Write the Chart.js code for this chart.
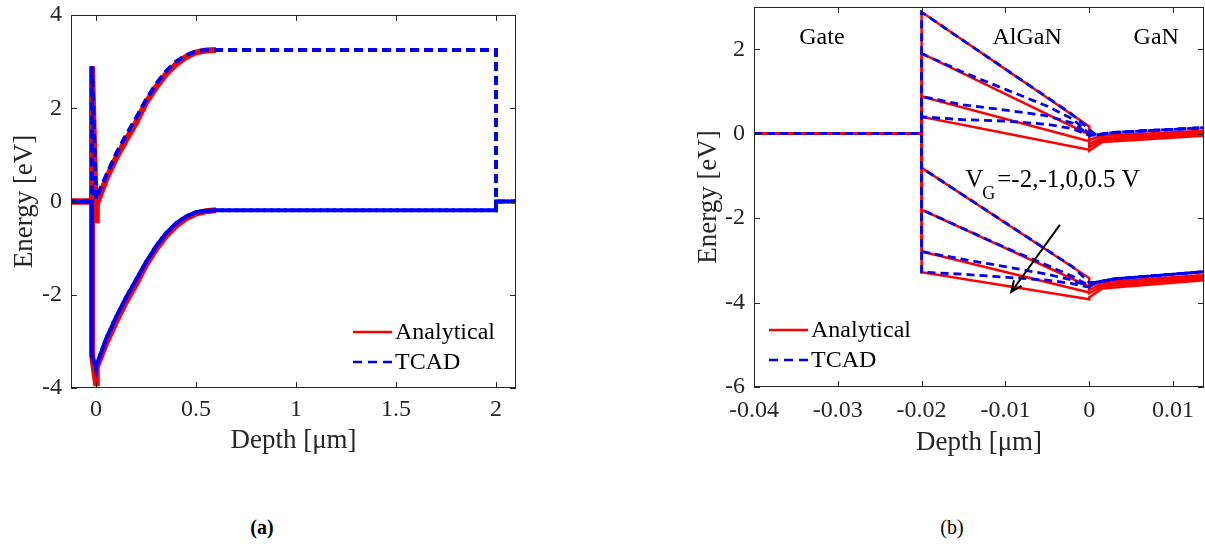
<!DOCTYPE html>
<html lang="en">
<head>
<meta charset="UTF-8">
<title>Energy band diagrams</title>
<style>
  body { margin: 0; background: #fff; width: 1205px; height: 548px; position: relative; overflow: hidden;
         font-family: 'Liberation Serif', 'Times New Roman', serif; }
  .panel { position: absolute; top: 0; height: 470px; }
  #wrapA { left: 0; width: 540px; }
  #wrapB { left: 680px; width: 525px; }
  .cap { position: absolute; top: 515px; font-size: 20px; line-height: 24px; color: #000; transform: translateX(-50%); }
</style>
</head>
<body>
<div class="panel" id="wrapA"><canvas id="chartA" width="540" height="470"></canvas></div>
<div class="panel" id="wrapB"><canvas id="chartB" width="525" height="470"></canvas></div>
<div class="cap" style="left:262px;font-weight:bold">(a)</div>
<div class="cap" style="left:952px">(b)</div>

<script src="https://cdn.jsdelivr.net/npm/chart.js"></script>
<script>
// ---- panel (a): whole structure ----
const aXTicks = [0, 0.5, 1, 1.5, 2];
const aYTicks = [-4, -2, 0, 2, 4];

const aX_an  = [-0.125, -0.02, -0.02, 0, 0.004, 0.05, 0.1, 0.15, 0.2, 0.25, 0.3, 0.35, 0.4, 0.45, 0.5, 0.55, 0.6];
const aEc_an = [0, 0, 2.9, -0.4, -0.05, 0.47, 0.93, 1.32, 1.69, 2.12, 2.45, 2.73, 2.94, 3.10, 3.20, 3.24, 3.25];
const aEv_an = [0, 0, -3.3, -3.9, -3.55, -3.05, -2.58, -2.15, -1.77, -1.36, -1.02, -0.74, -0.52, -0.36, -0.26, -0.21, -0.19];

const aX_tc  = [-0.125, -0.02, -0.02, 0, 0.004, 0.05, 0.1, 0.15, 0.2, 0.25, 0.3, 0.35, 0.4, 0.45, 0.5, 0.55, 0.6, 2.0, 2.0, 2.1];
const aEc_tc = [0, 0, 2.9, 0.05, 0.1, 0.55, 1.02, 1.42, 1.79, 2.18, 2.52, 2.79, 3.0, 3.14, 3.22, 3.25, 3.25, 3.25, 0, 0];
const aEv_tc = [0, 0, -3.3, -3.6, -3.5, -2.95, -2.48, -2.06, -1.68, -1.3, -0.96, -0.68, -0.47, -0.32, -0.23, -0.2, -0.19, -0.19, 0, 0];

// ---- panel (b): zoom on the barrier, VG = -2, -1, 0, 0.5 V ----
const bXTicks = [-0.04, -0.03, -0.02, -0.01, 0, 0.01];
const bYTicks = [-6, -4, -2, 0, 2];

const bX_an = [-0.04, -0.02, -0.02, 0, 0, 0.0015, 0.0137];
const bEc_an_m2 = [0, 0, 2.88, 0.17, -0.15, -0.05, 0.07];
const bEc_an_m1 = [0, 0, 1.90, -0.02, -0.24, -0.10, 0.03];
const bEc_an_0  = [0, 0, 0.88, -0.18, -0.32, -0.15, -0.01];
const bEc_an_p5 = [0, 0, 0.40, -0.38, -0.40, -0.20, -0.05];
const bEv_an_m2 = [0, 0, -0.81, -3.42, -3.62, -3.52, -3.35];
const bEv_an_m1 = [0, 0, -1.80, -3.62, -3.70, -3.57, -3.39];
const bEv_an_0  = [0, 0, -2.79, -3.76, -3.78, -3.62, -3.43];
const bEv_an_p5 = [0, 0, -3.28, -3.92, -3.88, -3.67, -3.47];

const bX_tc = [-0.04, -0.02, -0.02, -0.015, -0.01, -0.005, -0.002, 0, 0.0008, 0.003, 0.0137];
const bEc_tc_m2 = [0, 0, 2.88, 2.20, 1.53, 0.86, 0.45, 0.10, -0.03, 0.03, 0.14];
const bEc_tc_m1 = [0, 0, 1.90, 1.45, 1.05, 0.65, 0.35, 0.0, -0.03, 0.03, 0.14];
const bEc_tc_0  = [0, 0, 0.88, 0.68, 0.56, 0.42, 0.25, -0.02, -0.03, 0.03, 0.14];
const bEc_tc_p5 = [0, 0, 0.40, 0.33, 0.30, 0.22, 0.12, -0.04, -0.03, 0.03, 0.14];
const bEv_tc_m2 = [0, 0, -0.81, -1.46, -2.11, -2.76, -3.15, -3.52, -3.52, -3.44, -3.27];
const bEv_tc_m1 = [0, 0, -1.80, -2.25, -2.70, -3.12, -3.38, -3.60, -3.52, -3.44, -3.27];
const bEv_tc_0  = [0, 0, -2.79, -2.98, -3.15, -3.33, -3.47, -3.62, -3.52, -3.44, -3.27];
const bEv_tc_p5 = [0, 0, -3.28, -3.33, -3.40, -3.47, -3.55, -3.64, -3.52, -3.44, -3.27];

const legendNames = ['Analytical', 'TCAD'];

const SERIF = "'Liberation Serif', 'Times New Roman', serif";
Chart.defaults.font.family = SERIF;
Chart.defaults.color = '#262626';

function pts(xs, ys) {
    return xs.map((x, i) => ({ x: x, y: ys[i] }));
}

function series(xs, ys, tcad, width, dash, dashOffset) {
    return {
        data: pts(xs, ys),
        showLine: true,
        pointRadius: 0,
        tension: 0,
        borderColor: tcad ? '#0000ff' : '#ff0000',
        borderWidth: width,
        borderDash: tcad ? dash : [],
        borderDashOffset: dashOffset || 0,
        order: tcad ? 0 : 1
    };
}

function xScale(min, max, ticks, h, pad, titlePad) {
    return {
        type: 'linear', min: min, max: max, offset: false,
        afterBuildTicks: s => { s.ticks = ticks.map(v => ({ value: v })); },
        afterFit: s => { s.height = h; s.paddingLeft = 0; s.paddingRight = 0; },
        grid: { display: false, drawTicks: false },
        border: { display: false },
        ticks: { padding: pad, maxRotation: 0, autoSkip: false, callback: v => String(v),
                 font: { family: SERIF, size: 24 }, color: '#262626' },
        title: { display: true, text: 'Depth [μm]', font: { family: SERIF, size: 27 }, color: '#262626',
                 padding: { top: 0, bottom: titlePad } }
    };
}

function yScale(min, max, ticks, w, pad, titlePad) {
    return {
        type: 'linear', min: min, max: max,
        afterBuildTicks: s => { s.ticks = ticks.map(v => ({ value: v })); },
        afterFit: s => { s.width = w; s.paddingTop = 0; s.paddingBottom = 0; },
        grid: { display: false, drawTicks: false },
        border: { display: false },
        ticks: { padding: pad, autoSkip: false, callback: v => String(v),
                 font: { family: SERIF, size: 24 }, color: '#262626' },
        title: { display: true, text: 'Energy [eV]', font: { family: SERIF, size: 27 }, color: '#262626',
                 padding: { top: titlePad, bottom: 0 } }
    };
}

// box, inward ticks, legend and notes
const deco = {
    id: 'deco',
    afterDraw(chart, args, opts) {
        const { ctx, chartArea: a } = chart;
        const xs = chart.scales.x, ys = chart.scales.y;
        ctx.save();
        ctx.strokeStyle = '#262626';
        ctx.lineWidth = 1;
        ctx.strokeRect(a.left + 0.5, a.top + 0.5, a.width - 1, a.height - 1);
        ctx.beginPath();
        xs.ticks.forEach(t => {
            const px = Math.round(xs.getPixelForValue(t.value)) + 0.5;
            ctx.moveTo(px, a.bottom); ctx.lineTo(px, a.bottom - 6);
            ctx.moveTo(px, a.top); ctx.lineTo(px, a.top + 6);
        });
        ys.ticks.forEach(t => {
            const py = Math.round(ys.getPixelForValue(t.value)) + 0.5;
            ctx.moveTo(a.left, py); ctx.lineTo(a.left + 6, py);
            ctx.moveTo(a.right, py); ctx.lineTo(a.right - 6, py);
        });
        ctx.stroke();

        // legend
        const lg = opts.legend;
        ctx.font = '24px ' + SERIF;
        ctx.textBaseline = 'middle';
        ctx.textAlign = 'left';
        legendNames.forEach((name, i) => {
            const y = a.top + lg.y + i * 30;
            const x0 = a.left + lg.x;
            ctx.beginPath();
            ctx.lineWidth = 2.5;
            ctx.strokeStyle = i === 0 ? '#ff0000' : '#0000ff';
            ctx.setLineDash(i === 0 ? [] : [9, 6]);
            ctx.moveTo(x0, y); ctx.lineTo(x0 + 39, y);
            ctx.stroke();
            ctx.setLineDash([]);
            ctx.fillStyle = '#000';
            ctx.fillText(name, x0 + 42, y + 1);
        });

        // text notes placed in data units
        (opts.notes || []).forEach(n => {
            ctx.fillStyle = '#000';
            ctx.font = '24px ' + SERIF;
            ctx.textAlign = 'center';
            ctx.textBaseline = 'middle';
            ctx.fillText(n.t, xs.getPixelForValue(n.x), ys.getPixelForValue(n.y));
        });

        if (opts.vg) {
            const v = opts.vg;
            let x = xs.getPixelForValue(v.x);
            const yb = ys.getPixelForValue(v.y);
            ctx.fillStyle = '#000';
            ctx.textAlign = 'left';
            ctx.textBaseline = 'alphabetic';
            ctx.font = '25px ' + SERIF;
            ctx.fillText('V', x, yb);
            x += ctx.measureText('V').width - 1;
            ctx.font = '18px ' + SERIF;
            ctx.fillText('G', x, yb + 12);
            x += ctx.measureText('G').width + 2;
            ctx.font = '25px ' + SERIF;
            ctx.fillText(v.text, x, yb);
        }

        if (opts.arrow) {
            const r = opts.arrow;
            const x1 = xs.getPixelForValue(r.x1), y1 = ys.getPixelForValue(r.y1);
            const x2 = xs.getPixelForValue(r.x2), y2 = ys.getPixelForValue(r.y2);
            const ang = Math.atan2(y2 - y1, x2 - x1);
            ctx.strokeStyle = '#000';
            ctx.lineWidth = 2;
            ctx.beginPath();
            ctx.moveTo(x1, y1); ctx.lineTo(x2, y2);
            ctx.moveTo(x2 - 12 * Math.cos(ang - 0.4), y2 - 12 * Math.sin(ang - 0.4));
            ctx.lineTo(x2, y2);
            ctx.lineTo(x2 - 12 * Math.cos(ang + 0.4), y2 - 12 * Math.sin(ang + 0.4));
            ctx.stroke();
        }
        ctx.restore();
    }
};

const dashA = [9, 5];
new Chart(document.getElementById('chartA'), {
    type: 'scatter',
    data: {
        datasets: [
            series(aX_an, aEc_an, false, 6),
            series(aX_an, aEv_an, false, 6),
            series(aX_tc, aEc_tc, true, 4, dashA),
            series(aX_tc, aEv_tc, true, 4, dashA),
            series(aX_tc, aEv_tc, true, 4, dashA, 7)
        ]
    },
    options: {
        responsive: false,
        animation: false,
        layout: { padding: { top: 15, right: 24, left: 0, bottom: 0 } },
        scales: {
            x: xScale(-0.125, 2.1, aXTicks, 82, 7, 13),
            y: yScale(-4, 4, aYTicks, 71, 9, 9)
        },
        plugins: {
            legend: { display: false },
            tooltip: { enabled: false },
            deco: { legend: { x: 282, y: 317 } }
        }
    },
    plugins: [deco]
});

const dashB = [8, 5];
new Chart(document.getElementById('chartB'), {
    type: 'scatter',
    data: {
        datasets: [
            series(bX_an, bEc_an_m2, false, 2.5), series(bX_an, bEc_an_m1, false, 2.5),
            series(bX_an, bEc_an_0, false, 2.5),  series(bX_an, bEc_an_p5, false, 2.5),
            series(bX_an, bEv_an_m2, false, 2.5), series(bX_an, bEv_an_m1, false, 2.5),
            series(bX_an, bEv_an_0, false, 2.5),  series(bX_an, bEv_an_p5, false, 2.5),
            series(bX_tc, bEc_tc_m2, true, 2.8, dashB), series(bX_tc, bEc_tc_m1, true, 2.8, dashB),
            series(bX_tc, bEc_tc_0, true, 2.8, dashB),  series(bX_tc, bEc_tc_p5, true, 2.8, dashB),
            series(bX_tc, bEv_tc_m2, true, 2.8, dashB), series(bX_tc, bEv_tc_m1, true, 2.8, dashB),
            series(bX_tc, bEv_tc_0, true, 2.8, dashB),  series(bX_tc, bEv_tc_p5, true, 2.8, dashB)
        ]
    },
    options: {
        responsive: false,
        animation: false,
        layout: { padding: { top: 7, right: 1, left: 0, bottom: 0 } },
        scales: {
            x: xScale(-0.04, 0.0137, bXTicks, 83, 9, 11),
            y: yScale(-6, 3, bYTicks, 74, 9, 13)
        },
        plugins: {
            legend: { display: false },
            tooltip: { enabled: false },
            deco: {
                legend: { x: 15, y: 323 },
                notes: [
                    { t: 'Gate', x: -0.0319, y: 2.27 },
                    { t: 'AlGaN', x: -0.0074, y: 2.27 },
                    { t: 'GaN', x: 0.008, y: 2.27 }
                ],
                vg: { x: -0.0148, y: -1.27, text: '=-2,-1,0,0.5 V' },
                arrow: { x1: -0.0035, y1: -2.16, x2: -0.0093, y2: -3.75 }
            }
        }
    },
    plugins: [deco]
});
</script>
</body>
</html>
